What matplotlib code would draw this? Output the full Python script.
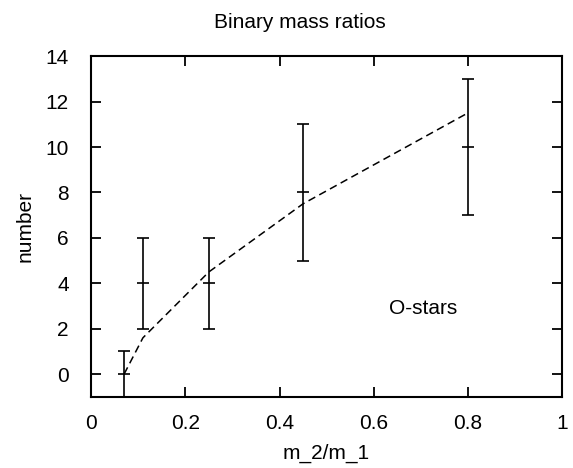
import numpy as np
import matplotlib.pyplot as plt

plt.rcParams['font.family'] = ['Liberation Sans', 'DejaVu Sans']

# measured binary counts per mass-ratio bin
q = [0.07, 0.11, 0.25, 0.45, 0.8]
counts = [0, 4, 4, 8, 10]
errs = [1, 2, 2, 3, 3]

# model curve (dashed)
q_model = [0.07, 0.11, 0.25, 0.45, 0.8]
n_model = [0, 1.6, 4.5, 7.5, 11.5]

fig = plt.figure(figsize=(5.73, 4.68), dpi=100)
ax = fig.add_axes([0.159, 0.152, 0.822, 0.728])

ax.errorbar(q, counts, yerr=errs, fmt='none', ecolor='black', elinewidth=1.2,
            capsize=4, capthick=1.2)
ax.plot(q, counts, linestyle='none', marker='_', markersize=8,
        markeredgewidth=1.2, color='black')
ax.plot(q_model, n_model, color='black', linewidth=1.1, dashes=(5, 3))

ax.set_xlim(0, 1)
ax.set_ylim(-1, 14)
ax.set_xticks([0, 0.2, 0.4, 0.6, 0.8, 1])
ax.set_xticklabels(['0', '0.2', '0.4', '0.6', '0.8', '1'])
ax.set_yticks(range(0, 15, 2))
ax.tick_params(direction='in', length=7, width=1.3, top=True, right=True,
               labelsize=15, pad=12)
ax.tick_params(axis='y', pad=16)
for s in ax.spines.values():
    s.set_linewidth(1.5)

ax.text(0.705, 2.9, 'O-stars', fontsize=15, ha='center', va='center')
fig.text(300 / 573, 1 - 28 / 468, 'Binary mass ratios', fontsize=15,
         ha='center', va='baseline')
ax.set_xlabel('m_2/m_1', fontsize=15, labelpad=8)
ax.set_ylabel('number', fontsize=15, labelpad=8)

fig.savefig('out.png', dpi=100)
